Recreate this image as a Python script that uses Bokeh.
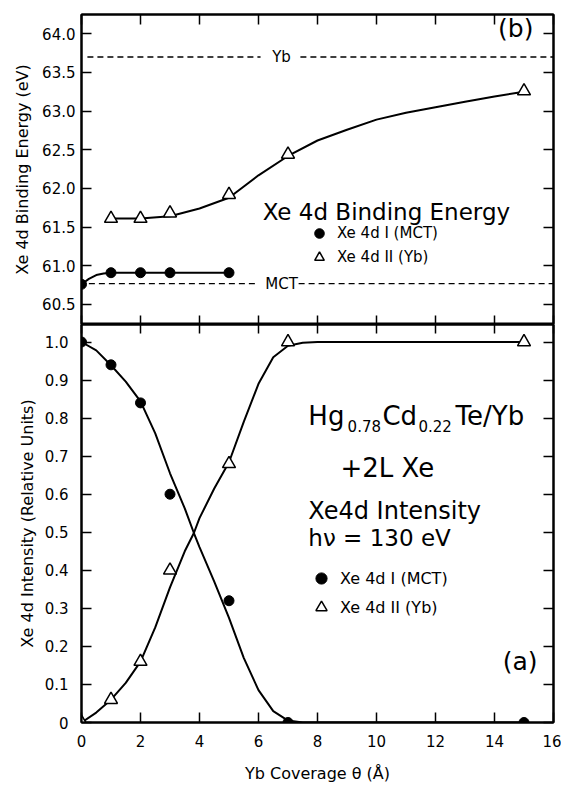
from bokeh.plotting import figure
from bokeh.models import (Range1d, LinearAxis, FixedTicker, Label, Legend, LegendItem,
                          PrintfTickFormatter)
from bokeh.layouts import column
from bokeh.embed import file_html
from bokeh.resources import INLINE

# ---------------- data ----------------
# (b) Xe 4d binding energy (eV) vs Yb coverage (Angstrom)
be_mct_x = [0, 1, 2, 3, 5]
be_mct_y = [60.76, 60.91, 60.91, 60.91, 60.91]
be_yb_x = [1, 2, 3, 5, 7, 15]
be_yb_y = [61.61, 61.61, 61.68, 61.92, 62.44, 63.26]
# guide curves as drawn in the figure
be_mct_curve_x = [0, 0.25, 0.5, 0.75, 1, 5]
be_mct_curve_y = [60.76, 60.83, 60.88, 60.90, 60.91, 60.91]
be_yb_curve_x = [1, 2, 3, 4, 5, 6, 7, 8, 9, 10, 11, 12, 13, 14, 15]
be_yb_curve_y = [61.61, 61.61, 61.64, 61.74, 61.88, 62.17, 62.42, 62.62, 62.76,
                 62.89, 62.98, 63.05, 63.12, 63.19, 63.25]
ref_yb = 63.70
ref_mct = 60.77

# (a) Xe 4d intensity (relative units)
int_x = [0, 1, 2, 3, 5, 7, 15]
int_mct_y = [1.0, 0.94, 0.84, 0.60, 0.32, 0.0, 0.0]
int_yb_y = [0.0, 0.06, 0.16, 0.40, 0.68, 1.0, 1.0]
int_curve_x = [0, 0.5, 1, 1.5, 2, 2.5, 3, 3.5, 3.81, 4, 4.5, 5, 5.5, 6, 6.5, 7, 7.5, 8, 15]
int_mct_curve_y = [1.0, 0.978, 0.939, 0.896, 0.844, 0.76, 0.655, 0.563, 0.498, 0.461,
                   0.37, 0.275, 0.17, 0.085, 0.03, 0.005, 0.0, 0.0, 0.0]
int_yb_curve_y = [0.0, 0.026, 0.06, 0.104, 0.16, 0.25, 0.355, 0.45, 0.498, 0.537,
                  0.615, 0.684, 0.79, 0.89, 0.96, 0.99, 0.998, 1.0, 1.0]

x_ticks = [0, 2, 4, 6, 8, 10, 12, 14, 16]
be_ticks = [60.5, 61.0, 61.5, 62.0, 62.5, 63.0, 63.5, 64.0]
int_ticks = [0, 0.1, 0.2, 0.3, 0.4, 0.5, 0.6, 0.7, 0.8, 0.9, 1.0]

FONT = "DejaVu Sans"


def base_axis(ax, tick_in=10):
    ax.major_tick_in = tick_in
    ax.major_tick_out = 0
    ax.minor_tick_line_color = None
    ax.axis_line_width = 2
    ax.major_tick_line_width = 1.5
    ax.major_label_text_font = FONT
    ax.major_label_text_font_size = "15px"
    ax.major_label_text_color = "black"
    ax.axis_label_text_font = FONT
    ax.axis_label_text_font_size = "16px"
    ax.axis_label_text_font_style = "normal"
    ax.axis_label_text_color = "black"
    return ax


def hidden_labels(ax):
    ax.major_label_text_font_size = "1px"
    ax.major_label_text_color = None
    ax.major_label_standoff = 0
    return ax


def clean(p):
    p.outline_line_color = "black"
    p.outline_line_width = 2
    p.background_fill_color = "white"
    p.border_fill_color = "white"
    for g in p.grid:
        g.grid_line_color = None
        g.visible = False


# ---------------- top panel (b) ----------------
top = figure(width=561, height=324,
             x_range=Range1d(0, 16), y_range=Range1d(60.24, 64.25),
             x_axis_location=None, y_axis_location=None,
             output_backend="svg", toolbar_location=None,
             min_border_left=81, min_border_right=8, min_border_top=14, min_border_bottom=0)
clean(top)

ly = base_axis(LinearAxis(ticker=FixedTicker(ticks=be_ticks),
                          formatter=PrintfTickFormatter(format="%.1f"),
                          axis_label="Xe 4d Binding Energy (eV)"))
ly.major_label_standoff = 6
ly.axis_label_standoff = 7
top.add_layout(ly, "left")
top.add_layout(hidden_labels(base_axis(LinearAxis(ticker=FixedTicker(ticks=be_ticks)))), "right")
top.add_layout(hidden_labels(base_axis(LinearAxis(ticker=FixedTicker(ticks=x_ticks)))), "above")
top.add_layout(hidden_labels(base_axis(LinearAxis(ticker=FixedTicker(ticks=x_ticks)), 9)), "below")

# reference levels (dashed, broken for their labels)
top.segment(x0=[0.2, 7.42], x1=[6.07, 16], y0=[ref_yb, ref_yb], y1=[ref_yb, ref_yb],
            line_color="black", line_width=1.3, line_dash="6 4")
top.segment(x0=[0.25, 7.36], x1=[5.9, 16], y0=[ref_mct, ref_mct], y1=[ref_mct, ref_mct],
            line_color="black", line_width=1.3, line_dash="6 4")
top.add_layout(Label(x=6.78, y=ref_yb, text="Yb", text_align="center", text_baseline="middle",
                     text_font=FONT, text_font_size="15px", text_color="black"))
top.add_layout(Label(x=6.78, y=ref_mct, text="MCT", text_align="center", text_baseline="middle",
                     text_font=FONT, text_font_size="15px", text_color="black"))

top.line(be_mct_curve_x, be_mct_curve_y, line_color="black", line_width=2)
top.line(be_yb_curve_x, be_yb_curve_y, line_color="black", line_width=2)
r_b1 = top.scatter(be_mct_x, be_mct_y, marker="circle", size=10,
                   fill_color="black", line_color="black")
r_b2 = top.scatter(be_yb_x, be_yb_y, marker="triangle", size=13,
                   fill_color="white", line_color="black", line_width=1.5)

top.add_layout(Label(x=6.14, y=61.69, text="Xe 4d Binding Energy", text_align="left",
                     text_baseline="alphabetic", text_font=FONT, text_font_size="23px",
                     text_color="black"))
top.add_layout(Label(x=15.32, y=64.07, text="(b)", text_align="right", text_baseline="middle",
                     text_font=FONT, text_font_size="25px", text_color="black"))

leg_b = Legend(items=[LegendItem(label="Xe 4d I (MCT)", renderers=[r_b1]),
                      LegendItem(label="Xe 4d II (Yb)", renderers=[r_b2])],
               location=(226, 55), orientation="vertical",
               label_text_font=FONT, label_text_font_size="15px", label_text_color="black",
               glyph_width=24, glyph_height=24, label_height=24, spacing=0,
               label_standoff=6, padding=0, margin=0,
               border_line_color=None, background_fill_alpha=0)
top.add_layout(leg_b)

# ---------------- bottom panel (a) ----------------
bot = figure(width=561, height=461,
             x_range=Range1d(0, 16), y_range=Range1d(0, 1.046),
             x_axis_location=None, y_axis_location=None,
             output_backend="svg", toolbar_location=None,
             min_border_left=81, min_border_right=8, min_border_top=0, min_border_bottom=58)
clean(bot)

ly2 = base_axis(LinearAxis(ticker=FixedTicker(ticks=int_ticks),
                           formatter=PrintfTickFormatter(format="%.1f"),
                           axis_label="Xe 4d Intensity (Relative Units)"))
ly2.major_label_overrides = {0: "0"}
ly2.major_label_standoff = 13
ly2.axis_label_standoff = 5
bot.add_layout(ly2, "left")
bot.add_layout(hidden_labels(base_axis(LinearAxis(ticker=FixedTicker(ticks=int_ticks)))), "right")
bot.add_layout(hidden_labels(base_axis(LinearAxis(ticker=FixedTicker(ticks=x_ticks)), 9)), "above")
lx = base_axis(LinearAxis(ticker=FixedTicker(ticks=x_ticks), axis_label="Yb Coverage θ (Å)"))
lx.major_label_standoff = 12
lx.axis_label_standoff = 14
bot.add_layout(lx, "below")

bot.line(int_curve_x, int_mct_curve_y, line_color="black", line_width=2)
bot.line(int_curve_x, int_yb_curve_y, line_color="black", line_width=2)
r_a1 = bot.scatter(int_x, int_mct_y, marker="circle", size=10,
                   fill_color="black", line_color="black")
r_a2 = bot.scatter(int_x, int_yb_y, marker="triangle", size=13,
                   fill_color="white", line_color="black", line_width=1.5)

big = "26px"
sub = "15px"
for x, y, t, fs in [(7.69, 0.805, "Hg", big), (9.02, 0.778, "0.78", sub),
                    (10.2, 0.805, "Cd", big), (11.42, 0.778, "0.22", sub),
                    (12.68, 0.805, "Te/Yb", big), (8.78, 0.669, "+2L Xe", big),
                    (7.69, 0.555, "Xe4d Intensity", "24px"),
                    (7.69, 0.485, "hν = 130 eV", "23px")]:
    bot.add_layout(Label(x=x, y=y, text=t, text_align="left", text_baseline="alphabetic",
                         text_font=FONT, text_font_size=fs, text_color="black"))
bot.add_layout(Label(x=15.46, y=0.16, text="(a)", text_align="right", text_baseline="middle",
                     text_font=FONT, text_font_size="25px", text_color="black"))

leg_a = Legend(items=[LegendItem(label="Xe 4d I (MCT)", renderers=[r_a1]),
                      LegendItem(label="Xe 4d II (Yb)", renderers=[r_a2])],
               location=(226, 101), orientation="vertical",
               label_text_font=FONT, label_text_font_size="16px", label_text_color="black",
               glyph_width=28, glyph_height=28, label_height=28, spacing=1,
               label_standoff=5, padding=0, margin=0,
               border_line_color=None, background_fill_alpha=0)
bot.add_layout(leg_a)

layout = column(top, bot, spacing=0)
open("out.html", "w").write(file_html(layout, INLINE))
